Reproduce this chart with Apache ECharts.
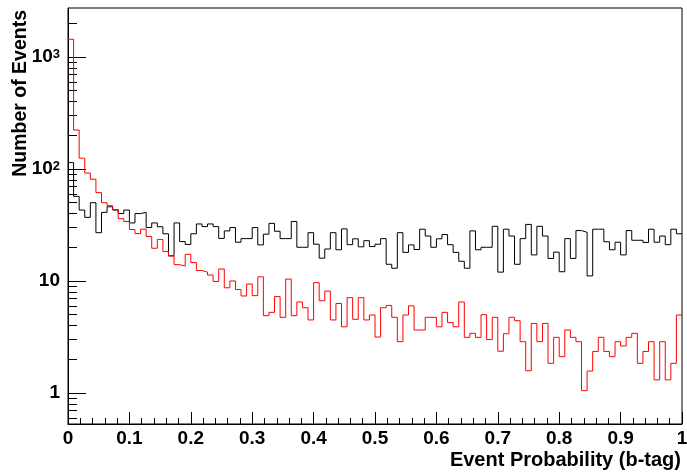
<!DOCTYPE html>
<html>
<head>
<meta charset="utf-8">
<script src="https://cdn.jsdelivr.net/npm/echarts@6/dist/echarts.min.js"></script>
<style>html,body{margin:0;padding:0;background:#fff;}#c{width:687px;height:473px;}</style>
</head>
<body>
<div id="c"></div>
<script>
// 110 bins between 0 and 1
const nBins = 110;
const blackCounts = [114,57,43,37,50,27,41,46,43,40,43,33,40,41,30,33,30.5,26.4,16.8,33,
22.5,21.2,26.4,32.3,30.6,32.3,30.6,24,28,30,22.2,23.9,23.9,30,21,26.2,32.7,27.8,23.9,23.9,
34,20,20,27,21.3,16,19.3,27,19,29.2,21.1,23.8,20.2,22.9,20.3,21.3,23.9,14.1,13,27,
18,21,19.1,29,25.2,20,23.8,26,21.1,18,15,13,28,19,20,20,30.8,12,29,25.2,
14.1,23.9,32,17.1,30.8,25.2,15.9,18.1,12.1,23.9,15.9,28.2,27.2,11.1,29,29,22.4,19,22.2,17.1,
28.2,23.1,23.1,22.1,29,22.2,25.2,21.1,29,26.4];
const redCounts = [1440,223,125,92,81,61.5,50,47,43.5,36,34,28.8,26.5,29,25,19.6,23.5,18.3,16.7,14,
13.6,17.3,14.6,12.4,12,11.3,9.9,12.8,8.7,10,8.4,7.35,9.4,7.4,10.9,4.9,5.25,7.25,4.74,10.4,
4.9,6.5,5.77,4.49,9.67,6.66,8.13,4.49,6.3,3.9,7.1,4.55,7.1,4.49,4.97,3.16,5.77,6.05,4.74,2.87,
4.97,6.0,3.65,3.65,4.74,4.74,3.9,5.25,4.25,3.9,6.5,3.14,3.41,3.14,5.0,3.0,4.74,2.36,3.38,4.74,
4.42,2.87,1.58,4.18,2.87,4.18,1.84,3.14,2.11,3.65,3.14,2.87,1.05,1.57,2.35,3.14,2.35,2.11,2.87,2.63,
3.14,3.41,1.84,2.35,2.87,1.31,2.87,1.31,1.84,4.97];
const yMajorTicks = [1, 10, 100, 1000];
const yMinorTicks = [0.6,0.7,0.8,0.9,2,3,4,5,6,7,8,9,20,30,40,50,60,70,80,90,200,300,400,500,600,700,800,900,2000];
const xTitle = 'Event Probability (b-tag)';
const yTitle = 'Number of Events';

function histPoints(counts) {
  const pts = counts.map((v, i) => [i / nBins, v]);
  pts.push([1, counts[counts.length - 1]]);
  return pts;
}

const FONT = 'Liberation Sans, Arial, Helvetica, sans-serif';
const chart = echarts.init(document.getElementById('c'), null, {renderer: 'canvas'});
chart.setOption({
  animation: false,
  backgroundColor: '#fff',
  grid: {left: 68, top: 8, width: 614, height: 416, show: true, borderColor: '#000', borderWidth: 1,
         backgroundColor: 'transparent', containLabel: false, outerBoundsMode: 'none'},
  xAxis: {
    type: 'value', min: 0, max: 1, interval: 0.1,
    axisLine: {show: true, lineStyle: {color: '#000', width: 1}},
    axisTick: {show: true, inside: true, length: 12, lineStyle: {color: '#000', width: 1}},
    minorTick: {show: true, splitNumber: 5, length: 6, lineStyle: {color: '#000', width: 1}},
    splitLine: {show: false},
    axisLabel: {color: '#000', fontFamily: FONT, fontWeight: 'bold', fontSize: 19, margin: 5,
      formatter: v => (v === 0 ? '0' : v === 1 ? '1' : v.toFixed(1))}
  },
  yAxis: [{
    type: 'log', logBase: 10, min: 0.5287, max: 2738,
    axisLine: {show: true, lineStyle: {color: '#000', width: 1}},
    axisTick: {show: true, inside: true, length: 18, customValues: yMajorTicks, lineStyle: {color: '#000', width: 1}},
    minorTick: {show: false},
    splitLine: {show: false},
    axisLabel: {customValues: yMajorTicks, color: '#000', margin: 8,
      formatter: v => {
        if (Math.abs(v - 1000) < 1e-6) return '{b|10}{s|3}';
        if (Math.abs(v - 100) < 1e-6) return '{b|10}{s|2}';
        return '{b|' + Math.round(v) + '}';
      },
      rich: {
        b: {fontFamily: FONT, fontWeight: 'bold', fontSize: 19, color: '#000', verticalAlign: 'bottom'},
        s: {fontFamily: FONT, fontWeight: 'bold', fontSize: 13, color: '#000', verticalAlign: 'top'}
      }
    }
  }, {
    type: 'log', logBase: 10, min: 0.5287, max: 2738, position: 'left',
    axisLine: {show: false},
    axisTick: {show: true, inside: true, length: 9, customValues: yMinorTicks, lineStyle: {color: '#000', width: 1}},
    axisLabel: {show: false},
    splitLine: {show: false}
  }],
  series: [{
    type: 'line', step: 'end', yAxisIndex: 0, symbol: 'none', data: histPoints(blackCounts),
    lineStyle: {color: '#000', width: 1}, itemStyle: {color: '#000'}, silent: true
  }, {
    type: 'line', step: 'end', yAxisIndex: 0, symbol: 'none', data: histPoints(redCounts),
    lineStyle: {color: '#ff0000', width: 1}, itemStyle: {color: '#ff0000'}, silent: true
  }],
  graphic: [{
    type: 'text', x: 681, y: 460,
    style: {text: xTitle, fill: '#000', font: 'bold 20px ' + FONT, textAlign: 'right', textVerticalAlign: 'middle'}
  }, {
    type: 'text', x: 21, y: 10, rotation: Math.PI / 2,
    style: {text: yTitle, fill: '#000', font: 'bold 19.5px ' + FONT, textAlign: 'right', textVerticalAlign: 'middle'}
  }]
});
</script>
</body>
</html>
